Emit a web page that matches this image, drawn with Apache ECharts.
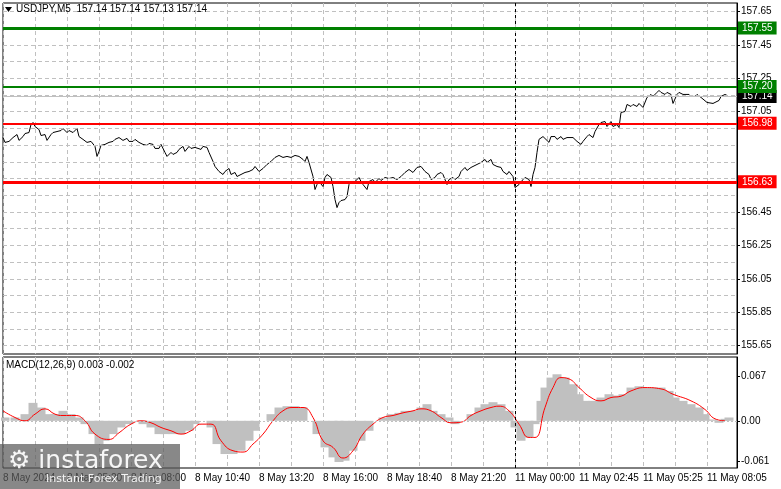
<!DOCTYPE html>
<html>
<head>
<meta charset="utf-8">
<script src="https://cdn.jsdelivr.net/npm/echarts@6/dist/echarts.min.js"></script>
<style>html,body{margin:0;padding:0;background:#fff}#chart{width:781px;height:489px}</style>
</head>
<body>
<div id="chart"></div>
<script>
// time axis labels, one every 32 bars (M5)
var timeLabels = ['8 May 2024', '8 May 05:20', '8 May 08:00', '8 May 10:40', '8 May 13:20', '8 May 16:00',
  '8 May 18:40', '8 May 21:20', '11 May 00:00', '11 May 02:45', '11 May 05:25', '11 May 08:05'];
var slotCount = 368;

// price line: bar index / close
var priceSlots = [0,1,3,4,5,7,8,10,11,13,14,15,16,18,19,21,22,24,25,27,29,30,32,33,35,37,38,40,42,44,46,47,48,49,51,53,55,56,58,60,62,63,65,66,68,70,72,73,75,76,78,79,81,82,84,85,87,88,90,91,93,94,96,97,99,100,102,103,105,106,108,110,111,113,114,116,117,119,121,123,125,126,128,130,132,134,136,138,140,142,144,146,148,150,151,152,153,154,155,156,157,158,160,161,162,164,165,166,167,168,169,171,172,173,174,176,178,179,180,182,183,185,186,188,189,191,193,195,197,199,201,203,205,207,209,211,213,214,216,217,219,220,222,223,225,226,228,229,231,232,234,235,237,239,241,242,244,245,247,249,250,252,253,254,255,256,258,260,261,263,264,265,266,267,268,270,271,273,274,276,277,279,280,282,283,285,287,289,290,292,293,295,296,298,299,301,302,304,305,307,308,309,311,312,314,315,317,318,320,321,322,324,325,327,328,329,331,332,334,335,337,338,340,341,343,344,346,347,349,350,352,353,355,356,358,359,360,361,362];
var prices = [156.895,156.866,156.872,156.866,156.895,156.913,156.878,156.901,156.919,156.925,156.973,156.985,156.961,156.943,156.907,156.913,156.878,156.913,156.925,156.931,156.937,156.949,156.925,156.937,156.925,156.949,156.901,156.884,156.866,156.872,156.842,156.782,156.812,156.848,156.854,156.866,156.872,156.884,156.895,156.878,156.890,156.872,156.872,156.884,156.866,156.854,156.848,156.860,156.854,156.830,156.830,156.854,156.806,156.782,156.806,156.794,156.806,156.824,156.842,156.812,156.842,156.830,156.836,156.842,156.824,156.842,156.836,156.806,156.752,156.722,156.692,156.674,156.692,156.710,156.674,156.686,156.662,156.674,156.686,156.692,156.704,156.722,156.692,156.710,156.734,156.752,156.776,156.788,156.776,156.782,156.776,156.788,156.782,156.764,156.752,156.782,156.746,156.752,156.662,156.584,156.614,156.632,156.602,156.656,156.674,156.656,156.602,156.524,156.476,156.506,156.518,156.524,156.542,156.614,156.632,156.632,156.656,156.632,156.614,156.584,156.632,156.644,156.626,156.650,156.638,156.656,156.650,156.656,156.644,156.662,156.686,156.704,156.686,156.716,156.722,156.692,156.674,156.644,156.656,156.674,156.686,156.674,156.614,156.644,156.656,156.644,156.662,156.692,156.716,156.698,156.716,156.722,156.734,156.746,156.764,156.746,156.764,156.734,156.722,156.716,156.692,156.674,156.692,156.692,156.662,156.596,156.614,156.644,156.656,156.644,156.602,156.674,156.716,156.806,156.884,156.901,156.901,156.866,156.901,156.901,156.884,156.901,156.884,156.895,156.884,156.895,156.872,156.854,156.872,156.901,156.913,156.895,156.931,156.973,156.985,156.991,156.961,156.991,156.961,156.973,156.955,157.045,157.051,157.093,157.081,157.093,157.081,157.099,157.075,157.075,157.135,157.153,157.141,157.165,157.177,157.165,157.153,157.165,157.153,157.099,157.153,157.165,157.153,157.153,157.153,157.141,157.141,157.153,157.135,157.141,157.105,157.099,157.099,157.105,157.117,157.141,157.135,157.153,157.147];

// MACD histogram
var histSlots = [1,6,11,15,19,23,26,30,34,38,41,45,48,51,55,59,63,66,70,74,78,81,85,89,93,96,100,104,107,111,115,119,123,126,130,134,138,142,146,150,154,157,161,165,168,171,175,179,183,186,190,194,198,201,205,209,212,215,219,223,226,230,234,238,241,245,249,253,256,259,263,266,269,271,274,277,281,285,288,291,295,299,303,306,310,314,318,321,325,329,333,336,340,344,348,351,355,358,361,363];
var histValues = [0.005,0.005,0.01,0.027,0.02,0.01,0.01,0.015,0.01,0.005,-0.005,-0.02,-0.035,-0.03,-0.02,-0.01,-0.005,0.0,-0.005,-0.01,-0.02,-0.02,-0.02,-0.02,-0.015,-0.005,0.0,-0.01,-0.035,-0.05,-0.05,-0.045,-0.03,-0.015,0.0,0.01,0.02,0.022,0.022,0.02,0.0,-0.02,-0.04,-0.055,-0.062,-0.06,-0.045,-0.03,-0.015,0.0,0.005,0.01,0.012,0.015,0.015,0.02,0.025,0.015,0.01,0.005,-0.005,0.0,0.01,0.02,0.025,0.028,0.025,0.015,-0.01,-0.03,-0.025,-0.005,0.03,0.05,0.065,0.07,0.065,0.055,0.04,0.03,0.03,0.035,0.04,0.038,0.04,0.05,0.052,0.05,0.05,0.05,0.045,0.035,0.03,0.025,0.02,0.01,0.002,-0.003,0.003,0.005];

// MACD signal line
var signalSlots = [0,6,11,16,21,26,30,36,41,46,53,58,64,69,74,79,84,89,94,99,104,109,115,120,125,130,135,140,145,150,155,160,165,170,175,180,185,190,195,200,205,209,214,219,224,229,234,239,244,248,253,258,263,266,271,275,279,283,288,294,299,304,309,314,321,329,335,344,351,356,361];
var signalValues = [0.015,0.005,0.0,0.01,0.018,0.01,0.008,0.008,0.0,-0.02,-0.028,-0.018,-0.005,0.0,-0.003,-0.01,-0.015,-0.02,-0.015,-0.005,-0.005,-0.03,-0.045,-0.047,-0.035,-0.02,0.0,0.015,0.02,0.02,0.005,-0.03,-0.04,-0.056,-0.045,-0.02,-0.005,0.005,0.008,0.012,0.015,0.018,0.015,0.005,-0.003,-0.002,0.008,0.015,0.02,0.022,0.015,-0.005,-0.025,-0.025,0.02,0.05,0.065,0.063,0.05,0.035,0.03,0.035,0.037,0.045,0.05,0.048,0.04,0.03,0.017,0.003,0.0];

var priceTicks = [155.65,155.85,156.05,156.25,156.45,157.05,157.25,157.45,157.65];
var priceGrid = [155.65,155.75,155.85,155.95,156.05,156.15,156.25,156.35,156.45,156.55,156.65,156.75,156.85,156.95,157.05,157.15,157.25,157.35,157.45,157.55,157.65];
var levels = [
  {value: 157.55, color: '#008000', width: 3},
  {value: 157.20, color: '#008000', width: 2},
  {value: 156.98, color: '#ff0000', width: 2},
  {value: 156.63, color: '#ff0000', width: 3}
];
var lastPrice = 157.14;
var macdTicks = [-0.061, 0, 0.067];

var categories = [];
for (var i = 0; i < slotCount; i++) {
  categories.push(i % 32 === 0 && timeLabels[i / 32] ? timeLabels[i / 32] : '');
}
function pairs(xs, ys) {
  var out = [];
  for (var i = 0; i < xs.length; i++) out.push([xs[i], ys[i]]);
  return out;
}

var font = '"Liberation Sans", Arial, sans-serif';
var chart = echarts.init(document.getElementById('chart'));

var levelLines = levels.map(function (l) {
  return {
    yAxis: l.value,
    lineStyle: {color: l.color, width: l.width, type: 'solid'},
    label: {show: true, position: 'end', distance: 1, formatter: l.value.toFixed(2),
      color: '#fff', backgroundColor: l.color, padding: [2, 4, 1, 4], fontSize: 10, fontFamily: font}
  };
});
levelLines.unshift({
  yAxis: lastPrice,
  lineStyle: {color: '#c0c0c0', width: 1, type: 'solid'},
  label: {show: true, position: 'end', distance: 1, formatter: lastPrice.toFixed(2),
    color: '#fff', backgroundColor: '#000', padding: [2, 4, 1, 4], fontSize: 10, fontFamily: font}
});
var sepLine = {xAxis: 256, lineStyle: {color: '#000', width: 1, type: [3, 3]}, label: {show: false}};

chart.setOption({
  animation: false,
  backgroundColor: '#fff',
  grid: [
    {left: 3, top: 3, right: 44, height: 351, show: true, borderColor: '#000', borderWidth: 1, backgroundColor: '#fff'},
    {left: 3, top: 357, right: 44, height: 111, show: true, borderColor: '#000', borderWidth: 1, backgroundColor: '#fff'}
  ],
  xAxis: [
    {type: 'category', gridIndex: 0, data: categories, boundaryGap: false,
      axisLine: {show: false}, axisTick: {show: false}, axisLabel: {show: false},
      splitLine: {show: true, interval: 15, lineStyle: {color: '#c0c0c0', type: [4, 3]}}},
    {type: 'category', gridIndex: 1, data: categories, boundaryGap: false,
      axisLine: {show: false}, axisTick: {show: false},
      axisLabel: {show: true, interval: 31, align: 'left', margin: 5, color: '#000', fontSize: 10,
        fontFamily: font, hideOverlap: false},
      splitLine: {show: true, interval: 15, lineStyle: {color: '#c0c0c0', type: [4, 3]}}}
  ],
  yAxis: [
    {type: 'value', gridIndex: 0, position: 'right', min: 155.6, max: 157.7,
      axisLine: {show: true, lineStyle: {color: '#000'}},
      axisTick: {show: true, length: 3, customValues: priceTicks, lineStyle: {color: '#000'}},
      axisLabel: {customValues: priceTicks, margin: 4, color: '#000', fontSize: 10, fontFamily: font,
        formatter: function (v) { return v.toFixed(2); }},
      splitLine: {show: false}},
    {type: 'value', gridIndex: 1, position: 'right', min: -0.071, max: 0.096,
      axisLine: {show: true, lineStyle: {color: '#000'}},
      axisTick: {show: true, length: 3, customValues: macdTicks, lineStyle: {color: '#000'}},
      axisLabel: {customValues: macdTicks, margin: 4, color: '#000', fontSize: 10, fontFamily: font,
        formatter: function (v) { return v === 0 ? '0.00' : v.toFixed(3); }},
      splitLine: {show: false}}
  ],
  series: [
    {type: 'line', xAxisIndex: 0, yAxisIndex: 0, data: [], silent: true,
      markLine: {silent: true, symbol: 'none', animation: false, label: {show: false},
        lineStyle: {color: '#c0c0c0', width: 1, type: [4, 3]},
        data: priceGrid.map(function (v) { return {yAxis: v}; }).concat([sepLine])}},
    {type: 'line', xAxisIndex: 0, yAxisIndex: 0, data: pairs(priceSlots, prices),
      symbol: 'none', lineStyle: {color: '#000', width: 1}, z: 3,
      markLine: {silent: true, symbol: 'none', animation: false, data: levelLines}},
    {type: 'bar', xAxisIndex: 1, yAxisIndex: 1, data: pairs(histSlots, histValues),
      barWidth: 9, itemStyle: {color: '#c0c0c0'},
      markLine: {silent: true, symbol: 'none', animation: false, label: {show: false},
        data: [{yAxis: 0, lineStyle: {color: '#c0c0c0', width: 1, type: [2, 2]}}, sepLine]}},
    {type: 'line', xAxisIndex: 1, yAxisIndex: 1, data: pairs(signalSlots, signalValues),
      symbol: 'none', smooth: true, lineStyle: {color: '#ff0000', width: 1}, z: 4}
  ],
  graphic: [
    {type: 'polygon', shape: {points: [[5, 7], [12, 7], [8.5, 12]]}, style: {fill: '#000'}, z: 10},
    {type: 'text', left: 16, top: 4, z: 10,
      style: {text: 'USDJPY,M5  157.14 157.14 157.13 157.14', fill: '#000', font: '10px ' + font}},
    {type: 'text', left: 6, top: 360, z: 10,
      style: {text: 'MACD(12,26,9) 0.003 -0.002', fill: '#000', font: '10px ' + font}},
    {type: 'rect', left: 0, top: 444, shape: {width: 180, height: 45}, style: {fill: 'rgba(90,90,90,0.72)'}, z: 20},
    {type: 'text', left: 8, top: 449, z: 21,
      style: {text: '⚙ instaforex', fill: 'rgba(255,255,255,0.92)', font: '25px "DejaVu Sans", sans-serif'}},
    {type: 'text', left: 46, top: 474, z: 21,
      style: {text: 'Instant Forex Trading', fill: 'rgba(255,255,255,0.9)', font: '11px "DejaVu Sans", sans-serif'}}
  ]
});
</script>
</body>
</html>
